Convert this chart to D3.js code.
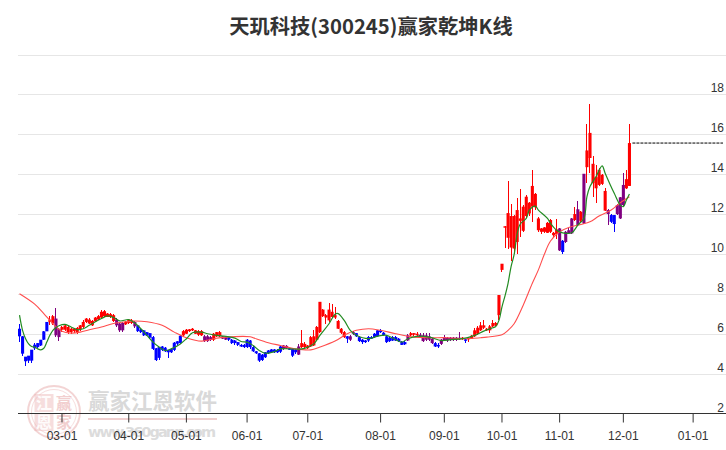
<!DOCTYPE html>
<html><head><meta charset="utf-8">
<script src="https://cdn.jsdelivr.net/npm/d3@7"></script>
<style>html,body{margin:0;padding:0;background:#fff;overflow:hidden}svg{display:block}</style>
</head><body><div id="chart"></div>
<script>
const titleText = "天玑科技(300245)赢家乾坤K线";
const yTickValues = [18,16,14,12,10,8,6,4,2];
const gridValues = [20,18,16,14,12,10,8,6,4];
const monthLabels = ["03-01","04-01","05-01","06-01","07-01","08-01","09-01","10-01","11-01","12-01","01-01"];
const sessionsBeforeMonth = [14,22,19,20,20,24,21,19,19,21,23];
const sessionCount = 233;
const lastPrice = 15.56;

const kinds = ("dddddddddd"+"uu"+"pp"+"uuuuuuuuuuuuuuuuuu"+"ppp"+"uuu"+"p"+"ddddddddddddddd"+"uuuuuuu"+"ppp"+"uuu"+"pp"+"dddddddddddddddddd"+"pp"+"ddd"+"p"+"uuuuuuuuuuuuuuu"+"d"+"pp"+"ddddddddddddddddd"+"p"+"uuu"+"ppppp"+"dd"+"ppppppp"+"u"+"d"+"uuuuuuuuuuuuuuuuuuuuuuuuuuuuuu"+"p"+"d"+"ppp"+"u"+"p"+"u"+"p"+"uuuuuuu"+"p"+"dd"+"ppp"+"uu").split("");

const bodyTop = [6.25,5.87,4.85,4.9,5.2,5.45,5.53,5.7,6.12,6.59,6.71,6.88,6.76,6.25,6.34,6.42,6.34,6.25,6.25,6.29,6.42,6.59,6.76,6.71,6.64,6.81,6.88,7.1,7.13,7.01,6.98,6.93,6.71,6.51,6.54,6.59,6.71,6.67,6.59,6.42,6.2,6.17,6.08,6.03,5.83,5.27,5.33,5.36,5.3,5.19,5.24,5.55,5.62,5.9,6.13,6.2,6.22,6.25,6.17,6.13,6.13,5.87,5.87,5.83,6.0,6.08,6.08,5.87,5.83,5.83,5.7,5.66,5.58,5.44,5.44,5.7,5.66,5.33,5.12,5.02,4.95,5.07,5.16,5.21,5.21,5.19,5.36,5.41,5.39,5.27,5.24,5.21,5.36,5.53,5.49,5.41,5.83,5.87,6.34,7.6,7.21,6.93,7.21,7.1,6.93,6.64,6.25,6.08,5.87,5.87,6.08,6.03,5.83,5.7,5.66,5.83,5.83,6.0,6.17,6.17,6.05,5.87,5.8,5.83,5.83,5.75,5.6,5.58,5.92,6.03,6.03,6.0,5.95,5.92,5.92,5.87,5.75,5.53,5.44,5.7,5.83,5.8,5.8,5.8,5.8,5.8,5.8,5.72,5.8,5.9,6.17,6.3,6.42,6.42,6.25,6.37,6.54,6.54,7.94,9.51,11.39,12.05,11.9,11.9,12.2,11.78,12.37,12.87,12.57,13.41,13.01,11.78,11.28,11.33,11.56,11.7,11.06,11.23,11.28,10.66,11.11,11.19,11.78,12.0,12.24,12.12,14.02,15.19,16.07,14.52,13.85,14.22,13.97,13.16,12.2,11.95,11.95,12.45,12.84,13.46,13.75,15.56];
const bodyBottom = [5.87,5.0,4.62,4.65,4.65,5.27,5.33,5.41,5.7,6.12,6.59,6.51,5.92,5.83,6.2,6.2,6.08,6.08,6.13,6.08,6.22,6.34,6.59,6.51,6.42,6.62,6.71,6.81,6.88,6.84,6.84,6.64,6.42,6.17,6.17,6.47,6.54,6.54,6.37,6.13,6.08,5.92,5.92,5.8,5.24,4.68,4.79,5.19,5.12,5.07,5.07,5.19,5.5,5.53,5.92,6.0,6.13,6.17,6.0,5.95,5.92,5.63,5.63,5.7,5.7,5.87,5.87,5.75,5.7,5.7,5.53,5.53,5.44,5.36,5.33,5.33,5.33,5.12,5.02,4.65,4.68,4.82,5.02,5.07,5.07,5.07,5.1,5.24,5.26,5.21,4.9,5.07,4.95,5.33,5.33,5.27,5.36,5.41,5.7,6.08,6.88,6.81,6.67,6.84,6.81,6.25,6.05,5.83,5.75,5.7,6.0,5.87,5.63,5.58,5.58,5.66,5.8,5.83,5.87,6.08,5.92,5.58,5.63,5.66,5.66,5.63,5.44,5.47,5.66,5.92,5.95,5.92,5.83,5.63,5.7,5.7,5.53,5.36,5.36,5.49,5.66,5.66,5.7,5.7,5.7,5.72,5.75,5.68,5.72,5.75,5.87,6.0,6.17,6.3,6.17,6.17,6.37,6.42,6.93,9.2,11.35,10.81,10.32,10.27,10.6,11.66,11.16,11.9,12.03,12.37,12.34,11.19,11.11,11.11,11.06,11.11,10.94,10.99,10.18,10.1,10.6,11.03,11.03,11.7,11.45,11.66,11.53,14.35,14.81,13.55,13.29,13.46,13.51,12.17,12.0,11.61,11.5,12.0,11.78,12.45,13.29,13.41];
const highs = [6.5,5.87,4.85,4.9,5.2,5.55,5.53,5.7,6.15,6.6,6.9,6.95,7.27,6.3,6.4,6.5,6.38,6.3,6.3,6.35,6.45,6.7,6.8,6.78,6.7,6.85,6.92,7.18,7.2,7.05,7.02,6.98,6.78,6.55,6.6,6.64,6.75,6.72,6.62,6.45,6.22,6.2,6.1,6.05,5.88,5.3,5.35,5.4,5.33,5.2,5.26,5.6,5.65,5.95,6.2,6.25,6.25,6.28,6.2,6.17,6.18,5.92,5.92,5.88,6.03,6.1,6.12,5.9,5.86,5.85,5.73,5.7,5.6,5.47,5.47,5.75,5.7,5.36,5.15,5.05,5.0,5.1,5.2,5.25,5.25,5.22,5.4,5.45,5.42,5.3,5.28,5.25,5.5,6.2,5.6,5.45,5.88,6.2,6.4,7.6,7.25,6.98,7.55,7.5,7.35,6.68,6.3,6.12,5.9,5.95,6.15,6.06,5.87,5.73,5.7,5.87,5.88,6.03,6.2,6.22,6.08,5.9,5.85,5.9,5.88,5.78,5.63,5.62,5.97,6.08,6.05,6.08,6.05,6.02,6.05,6.03,5.8,5.58,5.55,5.75,5.95,5.85,5.85,5.83,5.83,6.1,5.85,5.75,5.83,5.95,6.3,6.37,6.6,6.67,6.3,6.42,6.67,6.58,7.94,9.51,11.39,13.68,12.49,11.95,12.79,13.24,12.45,12.96,12.6,14.22,13.05,11.85,11.3,11.35,11.6,11.75,11.1,11.73,11.3,10.7,11.15,11.3,11.8,12.37,12.67,12.15,14.03,16.52,17.5,14.92,14.47,14.3,14.0,13.33,12.25,11.98,11.97,12.5,12.87,14.05,14.22,16.52];
const lows = [5.6,4.9,4.36,4.52,4.52,5.2,5.27,5.36,5.7,6.12,6.42,6.45,5.83,5.66,6.1,6.15,6.0,6.0,6.05,6.0,6.15,6.3,6.55,6.48,6.4,6.6,6.7,6.78,6.85,6.82,6.8,6.6,6.35,6.1,6.1,6.42,6.5,6.5,6.3,6.1,6.05,5.88,5.9,5.75,5.2,4.65,4.7,5.15,5.1,4.79,5.05,5.15,5.45,5.5,5.85,5.97,6.1,6.13,5.97,5.9,5.88,5.6,5.6,5.66,5.66,5.83,5.85,5.72,5.68,5.65,5.5,5.45,5.4,5.33,5.3,5.3,5.25,5.1,5.0,4.6,4.62,4.78,5.0,5.02,5.03,5.04,5.05,5.2,5.23,5.18,4.85,5.0,4.93,5.3,5.3,5.24,5.33,5.38,5.65,6.05,6.85,6.5,6.6,6.8,6.75,6.22,6.0,5.8,5.53,5.65,5.95,5.85,5.58,5.47,5.52,5.6,5.76,5.8,5.83,6.05,5.9,5.55,5.6,5.62,5.62,5.6,5.42,5.44,5.62,5.88,5.9,5.88,5.8,5.6,5.65,5.66,5.5,5.32,5.3,5.45,5.62,5.6,5.65,5.66,5.66,5.7,5.7,5.55,5.6,5.72,5.82,5.95,6.12,6.25,6.12,6.03,6.33,6.4,6.67,9.07,10.32,10.27,9.65,10.0,9.98,10.86,11.1,11.8,11.9,11.61,12.2,11.1,11.0,11.03,11.03,11.05,10.85,10.77,10.15,9.98,10.55,11.0,11.0,11.65,11.4,11.6,11.5,13.55,14.05,12.87,12.57,13.4,13.45,12.15,11.45,11.55,11.11,11.95,11.75,12.4,13.25,13.4];

const greenSessions = [0,1,2,3,4,5,6,7,8,9,10,11,12,13,15,17,19,21,23,27,29,31,33,36,38,40,42,44,46,48,50,53,55,57,60,62,65,68,71,73,75,77,79,81,84,86,89,93,95,97,99,102,104,105,107,109,111,115,118,121,124,126,128,131,135,139,142,146,150,153,156,157,158,159,160,161,162,163,164,165,167,168,170,171,174,175,177,179,182,184,186,187,188,190,192,193,196,198,199,200,201];
const greenValues = [6.93,6.17,5.75,5.49,5.36,5.33,5.24,5.19,5.27,5.58,5.92,6.17,6.3,6.4,6.47,6.34,6.2,6.25,6.42,6.76,6.89,6.81,6.64,6.71,6.54,6.25,5.92,5.58,5.33,5.16,5.24,5.49,5.75,6.05,6.08,6.0,5.92,5.87,5.78,5.61,5.58,5.41,5.16,5.02,5.1,5.24,5.24,5.24,5.33,5.49,5.92,6.5,6.98,7.01,6.67,6.17,5.92,5.75,5.88,5.92,5.7,5.58,5.75,5.87,5.83,5.66,5.7,5.75,5.92,6.13,6.3,6.37,6.67,7.35,7.9,8.53,9.37,9.96,11.0,11.5,11.78,12.2,12.4,12.2,11.78,11.53,11.19,11.06,11.06,11.45,11.78,12.87,13.38,13.88,14.42,14.05,13.04,12.45,12.37,12.7,13.01];
const redSessions = [0,5,8,11,14,17,20,23,27,31,35,38,42,47,51,55,60,64,68,76,77,82,86,91,96,99,104,108,111,115,119,124,130,135,141,147,152,154,159,161,163,166,169,171,173,175,178,181,185,188,191,195,198,201];
const redValues = [8.0,7.48,7.01,6.51,6.12,6.03,6.08,6.2,6.34,6.51,6.6,6.64,6.6,6.42,6.08,5.8,5.63,5.75,5.83,5.85,5.8,5.55,5.41,5.24,5.19,5.33,5.63,6.0,6.17,6.25,6.17,6.0,5.83,5.8,5.8,5.75,5.8,5.83,5.95,6.17,6.5,7.43,8.53,9.2,10.0,10.65,11.11,11.33,11.48,11.61,11.9,12.2,12.57,12.87];

const W = 726, H = 450;
const svg = d3.select("#chart").append("svg").attr("width", W).attr("height", H);
const sessions = d3.range(sessionCount);
const x = d3.scaleBand().domain(sessions).range([18, 725]);
const xc = i => x(i) + x.bandwidth() / 2;
const y = d3.scaleLinear().domain([2, 20]).range([413.5, 54.5]);
const colour = {u:"#ff0000", d:"#0000ff", p:"#800080"};

// watermark, behind everything
const wm = svg.append("g").attr("class","watermark");
const seal = "#e8a9a9";
wm.append("circle").attr("cx",54).attr("cy",412).attr("r",26).attr("fill","none").attr("stroke",seal).attr("stroke-width",2).attr("opacity",.5);
wm.append("circle").attr("cx",54).attr("cy",412).attr("r",22.5).attr("fill","none").attr("stroke",seal).attr("stroke-width",1).attr("opacity",.4);
[["江",44,409,1],["赢",64,409,0],["恩",44,428,1],["家",64,428,0]].forEach(d=>{
  if (d[3]) wm.append("rect").attr("x",d[1]-9.5).attr("y",d[2]-15).attr("width",19).attr("height",18).attr("fill",seal).attr("opacity",.4);
  wm.append("text").attr("x",d[1]).attr("y",d[2]).attr("text-anchor","middle").attr("font-family","'Noto Sans CJK SC'").attr("font-size",16).attr("font-weight",700)
    .attr("fill",d[3] ? "#fff" : seal).attr("opacity",d[3] ? .9 : .55).text(d[0]);
});
wm.append("text").attr("x",88).attr("y",409).attr("font-family","'Noto Sans CJK SC'").attr("font-weight",700).attr("font-size",21.5).attr("fill","#d9d9d9").text("赢家江恩软件");
wm.append("line").attr("x1",88).attr("x2",217).attr("y1",419).attr("y2",419).attr("stroke","#f0d0d0").attr("stroke-width",2);
wm.append("text").attr("x",88).attr("y",437).attr("font-family","'DejaVu Sans'").attr("font-weight",700).attr("font-size",14.5).attr("textLength",128).attr("fill","#dcdcdc").text("www.360gann.com");

// title
svg.append("text").attr("x",371).attr("y",34).attr("text-anchor","middle")
  .attr("font-family","'Noto Sans CJK SC'").attr("font-weight",700).attr("font-size",20.3).attr("fill","#333").text(titleText);

// grid
svg.append("g").selectAll("line").data(gridValues).join("line")
  .attr("x1",18).attr("x2",726).attr("y1",d=>Math.round(y(d))+.5).attr("y2",d=>Math.round(y(d))+.5)
  .attr("stroke","#e6e6e6").attr("stroke-width",1.2);

// axes
const monthTicks = d3.cumsum(sessionsBeforeMonth).map(n=>n);
const xAxis = d3.axisBottom(x).tickValues(monthTicks).tickSize(9).tickPadding(9)
  .tickFormat((d,i)=>monthLabels[i]);
const gx = svg.append("g").attr("transform","translate(0,413.5)").call(xAxis);
gx.select(".domain").attr("d","M18,0H726").attr("stroke","#333").attr("stroke-width",1);
gx.selectAll(".tick line").attr("stroke","#333");
gx.selectAll("text").attr("font-family","'Liberation Sans'").attr("font-size",12).attr("fill","#333");

const yAxis = d3.axisRight(y).tickValues(yTickValues).tickSize(0).tickPadding(0).tickFormat(d3.format("d"));
const gy = svg.append("g").attr("transform","translate(724,0)").call(yAxis);
gy.select(".domain").remove();
gy.selectAll("text").attr("text-anchor","end").attr("x",0).attr("dy",-2.5)
  .attr("font-family","'Liberation Sans'").attr("font-size",12).attr("fill","#333");

// candles
const candles = svg.append("g").attr("class","candles").selectAll("g").data(bodyTop).join("g");
candles.append("line").attr("shape-rendering","crispEdges").attr("x1",(d,i)=>xc(i)).attr("x2",(d,i)=>xc(i))
  .attr("y1",(d,i)=>y(highs[i])).attr("y2",(d,i)=>y(lows[i]))
  .attr("stroke",(d,i)=>colour[kinds[i]]).attr("stroke-width",1);
candles.append("rect").attr("x",(d,i)=>x(i)).attr("width",x.bandwidth()+.05)
  .attr("y",d=>y(d)).attr("height",(d,i)=>Math.max(1.5,y(bodyBottom[i])-y(d)))
  .attr("fill",(d,i)=>colour[kinds[i]]);

// moving lines
const lineGen = (xs) => d3.line().x((d,i)=>xc(xs[i])).y(d=>y(d)).curve(d3.curveCatmullRom.alpha(.5));
svg.append("path").attr("d",lineGen(redSessions)(redValues)).attr("fill","none").attr("stroke","#ff4d4d").attr("stroke-width",1.1);
svg.append("path").attr("d",lineGen(greenSessions)(greenValues)).attr("fill","none").attr("stroke","#228b22").attr("stroke-width",1.2);

// last price
svg.append("line").attr("x1",xc(bodyTop.length-1)+3).attr("x2",723)
  .attr("y1",y(lastPrice)).attr("y2",y(lastPrice))
  .attr("stroke","#000").attr("stroke-width",1).attr("stroke-dasharray","3,1");
</script></body></html>
